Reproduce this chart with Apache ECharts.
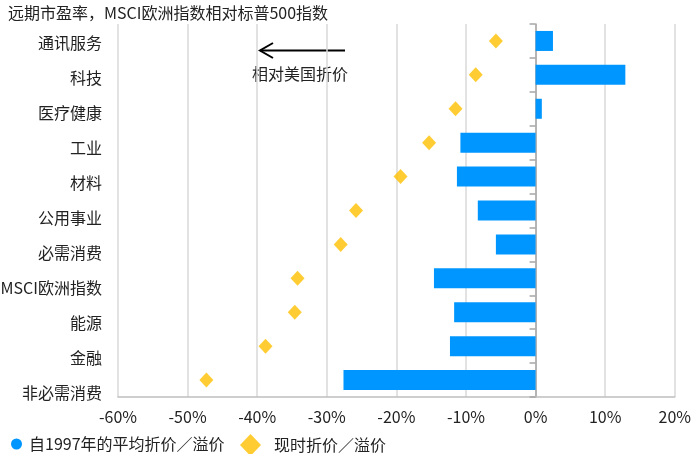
<!DOCTYPE html>
<html><head><meta charset="utf-8">
<script src="https://cdn.jsdelivr.net/npm/echarts@6/dist/echarts.min.js"></script>
<style>html,body{margin:0;padding:0;background:#fff}#c{width:694px;height:454px}</style>
</head><body><div id="c"></div>
<script>
const categories = ['通讯服务','科技','医疗健康','工业','材料','公用事业','必需消费','MSCI欧洲指数','能源','金融','非必需消费'];
const avgSince1997 = [2.5, 12.9, 0.9, -10.8, -11.3, -8.3, -5.7, -14.6, -11.7, -12.3, -27.6];
const currentValue = [-5.7, -8.6, -11.5, -15.3, -19.4, -25.8, -28.0, -34.2, -34.6, -38.8, -47.3];
const xTicks = {min: -60, max: 20, step: 10};
const titleText = '远期市盈率，MSCI欧洲指数相对标普500指数';
const seriesNames = ['自1997年的平均折价／溢价', '现时折价／溢价'];
const noteText = '相对美国折价';

const FONT = '"Noto Sans CJK SC", "Noto Sans", sans-serif';
const TXT = '#222';
const chart = echarts.init(document.getElementById('c'), null, {renderer: 'canvas'});
chart.setOption({
  animation: false,
  textStyle: {fontFamily: FONT},
  title: {text: titleText, left: 3, top: 0, textStyle: {fontSize: 16, fontWeight: 'normal', color: TXT, fontFamily: FONT}},
  grid: [
    {left: 118, right: 17, top: 24, bottom: 57},
    {left: 118, width: 1, top: 25.5, height: 385}
  ],
  legend: [
    {data: [seriesNames[0]], left: 6, top: 431, icon: 'circle', itemWidth: 11, itemHeight: 11, itemGap: 6,
     textStyle: {fontSize: 16, color: TXT, fontFamily: FONT, padding: [0,0,0,2]}},
    {data: [seriesNames[1]], left: 235, top: 429, icon: 'diamond', itemWidth: 21, itemHeight: 22,
     textStyle: {fontSize: 16, color: TXT, fontFamily: FONT, padding: [0,0,0,8]}}
  ],
  xAxis: [
    {type: 'value', gridIndex: 0, min: xTicks.min, max: xTicks.max, interval: xTicks.step,
     axisLine: {show: true, onZero: false, lineStyle: {color: '#bfbfbf', width: 1.5}},
     axisTick: {show: false},
     splitLine: {show: true, lineStyle: {color: '#d9d9d9', width: 1.5}},
     axisLabel: {formatter: v => v + '%', fontSize: 16, color: TXT, margin: 12, fontFamily: FONT}},
    {type: 'value', gridIndex: 1, show: false, min: 0, max: 1}
  ],
  yAxis: [
    {type: 'category', gridIndex: 0, data: categories, inverse: true,
     axisLine: {show: true, onZero: true, lineStyle: {color: '#a6a6a6', width: 1.5}},
     axisTick: {show: true, length: 6, lineStyle: {color: '#a6a6a6', width: 1.5}},
     axisLabel: {show: false}},
    {type: 'category', gridIndex: 1, data: categories, inverse: true,
     axisLine: {show: false}, axisTick: {show: false},
     axisLabel: {show: true, fontSize: 16, color: TXT, margin: 17, fontFamily: FONT}}
  ],
  series: [
    {name: seriesNames[0], type: 'bar', xAxisIndex: 0, yAxisIndex: 0, data: avgSince1997,
     barWidth: 20, itemStyle: {color: '#0096ff'}},
    {name: seriesNames[1], type: 'scatter', xAxisIndex: 0, yAxisIndex: 0, data: currentValue,
     symbol: 'diamond', symbolSize: [14, 15], itemStyle: {color: '#ffc000'}, z: 5}
  ],
  graphic: [
    {type: 'line', shape: {x1: 345, y1: 50.5, x2: 260, y2: 50.5}, style: {stroke: '#000', lineWidth: 2}},
    {type: 'polyline', shape: {points: [[273, 43], [260, 50.5], [273, 58]]}, style: {stroke: '#000', lineWidth: 2, fill: null}},
    {type: 'text', x: 300, y: 74, style: {text: noteText, fontSize: 16, fill: TXT, fontFamily: FONT, align: 'center', verticalAlign: 'middle'}}
  ]
});
</script></body></html>
